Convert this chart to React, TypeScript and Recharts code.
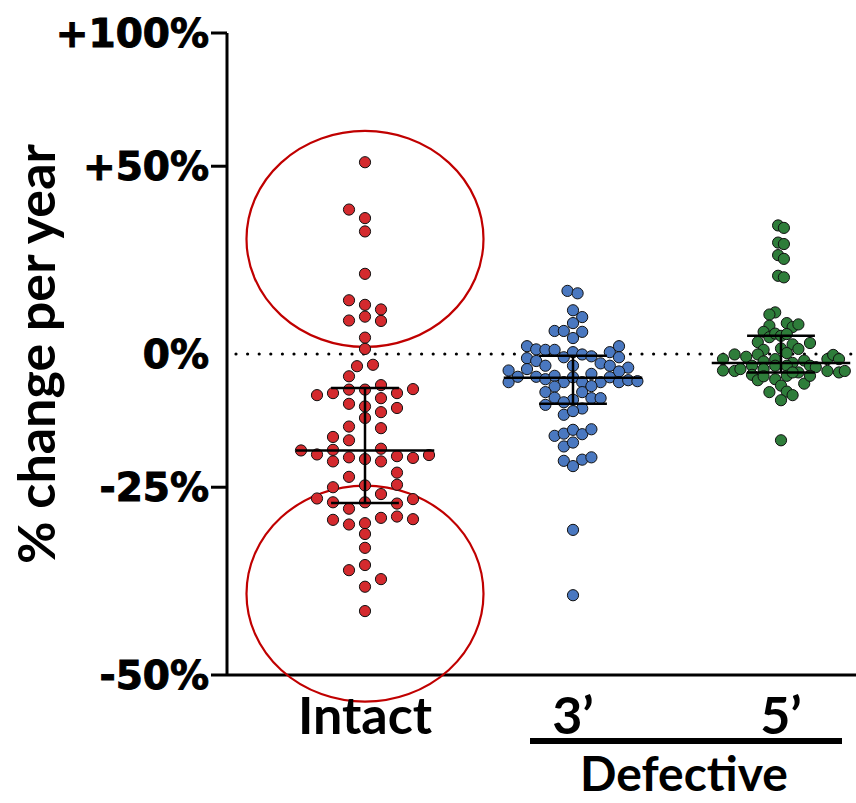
import React from 'react';
import { ScatterChart, Scatter, XAxis, YAxis, ReferenceLine, ReferenceDot } from 'recharts';

// categories on the x axis
const groups = ['Intact', '3’', '5’'];
const groupColors = ['#D42A2E', '#4A78C0', '#2E7D3A'];

// y ticks, in % change per year
const yTicks = [-50, -25, 0, 50, 100];

// [% change per year, swarm column]
const intact: [number, number][] = [
  [51.3, 0], [36.6, -1], [34.1, 0], [30.3, 0], [18.9, 0], [12.3, -1], [11.2, 0], [10.1, 1],
  [7.5, -1], [8.4, 0], [7.4, 1], [3.6, 0], [1.1, 0], [-2.6, -0.5], [-2.3, 0.5], [-4.7, -1],
  [-8.5, -3], [-8.1, -2], [-7.4, -1], [-7.4, 0], [-6.5, 1], [-8.1, 2], [-7.3, 3],
  [-10.2, -1], [-10.7, 0], [-9.1, 1], [-11.8, 1], [-11.0, 2], [-12.9, 0], [-14.5, -1], [-14.8, 1],
  [-16.4, -2], [-17.0, -1], [-18.8, -4], [-19.5, -3], [-18.7, -2], [-20.7, -2], [-20.0, -1],
  [-20.3, 0], [-18.5, 1], [-20.7, 1], [-19.8, 2], [-20.1, 3], [-19.6, 4], [-23.3, -1], [-22.6, 2],
  [-24.6, 2], [-25.0, -2], [-24.7, 0], [-26.1, 1], [-26.8, -3], [-27.4, -2], [-27.4, 0], [-27.6, 2],
  [-26.9, 3], [-28.4, -1], [-30.1, -2], [-30.8, -1], [-30.6, 0], [-29.8, 1], [-29.6, 2], [-30.0, 3],
  [-32.2, 0], [-34.2, 0], [-36.6, 0], [-37.3, -1], [-38.5, 1], [-39.5, 0], [-42.6, 0],
];

const defective3: [number, number][] = [
  [14.6, -0.6], [14.0, 0.5], [9.9, 0], [8.3, 1], [6.9, 0], [5.1, -2], [5.1, -1], [4.9, 1], [3.5, 0],
  [1.7, -5], [1.0, -4], [0.9, -3], [0.9, -2], [-0.7, -1], [0.4, 0], [-0.1, 1], [-0.5, 2], [0.4, 4],
  [1.7, 5], [-0.9, -5], [-1.5, -4], [-2.5, -3], [-2.5, 0], [-2.0, 3], [-2.5, 4], [-0.7, 5],
  [-3.5, -7], [-3.2, -5], [-2.9, 6], [-3.7, 5], [-5.9, -7], [-4.8, -6], [-4.8, -4], [-5.3, -3],
  [-4.6, -2], [-5.9, -1], [-4.9, 0], [-5.9, 1], [-4.2, 2], [-5.9, 3], [-4.9, 4], [-5.9, 5],
  [-5.5, 6], [-5.7, 7], [-6.8, -2], [-7.9, -3], [-7.9, 1], [-6.7, 2], [-9.0, -2], [-9.4, 0],
  [-9.1, 2], [-9.1, 3], [-10.4, -3], [-9.9, -1], [-11.1, 1], [-12.3, -1], [-11.6, 0],
  [-16.2, -2], [-15.8, -1], [-15.1, 0], [-15.9, 1], [-15.0, 2], [-18.1, -1], [-17.4, 0],
  [-20.6, -1], [-21.5, 0], [-20.4, 1], [-20.0, 2], [-31.6, 0], [-40.6, 0],
];

const defective5: [number, number][] = [
  [32.0, -0.5], [31.3, 0.5], [27.2, -0.5], [26.8, 0.5], [23.8, -0.5], [22.8, 0.5], [18.4, -0.5], [18.0, 0.5],
  [9.4, -1], [8.9, -2], [6.3, -2], [6.9, 1], [6.0, 2], [6.6, 3], [4.9, -3], [3.7, -2], [4.5, -1],
  [4.0, 0], [4.4, 1], [2.6, -4], [2.1, 2], [2.4, 5], [0.9, -3], [1.2, 0], [1.1, 3], [-0.1, -8],
  [-0.6, -6], [-0.1, -4], [0.2, 1], [-1.1, -10], [-1.1, 8], [-0.2, 9], [-1.1, 10], [-1.6, -3],
  [-1.1, -1], [-1.9, 2], [-1.4, 4], [-3.5, -10], [-3.6, -8], [-3.2, -7], [-2.5, -5], [-3.2, -3],
  [-2.5, -1], [-2.5, 1], [-3.9, 3], [-2.5, 5], [-2.8, 6], [-3.6, 8], [-3.9, 10], [-3.6, 11],
  [-4.4, -5], [-5.5, -4], [-4.7, -3], [-5.3, -1], [-4.6, 1], [-3.9, 2], [-6.2, 4], [-4.6, 5],
  [-6.6, 0], [-7.9, -2], [-7.8, 1], [-8.5, 2], [-9.5, 0], [-17.0, 0],
];

// median and interquartile range per group
const medians = [-18.8, -5.0, -1.9];
const q1 = [-27.5, -10.2, -3.9];
const q3 = [-7.1, -0.4, 4.0];

// circled regions on the Intact group (centre, % change)
const circleCentres = [28.2, -40.4];

const allGroups = [intact, defective3, defective5];
const colStepPx = [16, 9.2, 5.8];
const groupPx = 208;

const toRatio = (pct: number) => 1 + pct / 100;
const fmtPct = (r: number) => {
  const p = Math.round((r - 1) * 100);
  return p > 0 ? `+${p}%` : `${p}%`;
};

const series = allGroups.map((g, gi) =>
  g.map(([pct, col]) => ({ x: gi + (col * colStepPx[gi]) / groupPx, y: toRatio(pct) }))
);

const MED_HALF = 0.333;
const IQR_HALF = 0.163;
const bars: { x: number; y: number }[][] = [];
groups.forEach((_, gi) => {
  bars.push([{ x: gi - MED_HALF, y: toRatio(medians[gi]) }, { x: gi + MED_HALF, y: toRatio(medians[gi]) }]);
  bars.push([{ x: gi - IQR_HALF, y: toRatio(q1[gi]) }, { x: gi + IQR_HALF, y: toRatio(q1[gi]) }]);
  bars.push([{ x: gi - IQR_HALF, y: toRatio(q3[gi]) }, { x: gi + IQR_HALF, y: toRatio(q3[gi]) }]);
  bars.push([{ x: gi, y: toRatio(q1[gi]) }, { x: gi, y: toRatio(q3[gi]) }]);
});

const dotShape = (fill: string) => (p: any) => (
  <circle cx={p.cx} cy={p.cy} r={5.6} fill={fill} stroke="#111" strokeWidth={1} />
);

const Ellipse = (p: any) => (
  <ellipse cx={p.cx} cy={p.cy} rx={118.5} ry={108} fill="none" stroke="#C00000" strokeWidth={2.2} />
);

const YTick = (props: any) => {
  const { x, y, payload } = props;
  const v = payload.value;
  return (
    <g>
      {Math.abs(v - 1) > 1e-6 && (
        <line x1={x + 2} x2={x + 18} y1={y} y2={y} stroke="#000" strokeWidth={3} />
      )}
      <text
        x={x} y={y} dy="0.36em" textAnchor="end"
        fontFamily="DejaVu Sans" fontWeight="bold" fontSize={39}
        fill="#000" stroke="#000" strokeWidth={1}
      >
        {fmtPct(v)}
      </text>
    </g>
  );
};

const XTick = (props: any) => {
  const { x, y, payload } = props;
  return (
    <text x={x} y={y} dy={59} textAnchor="middle" fontFamily="Lato" fontWeight="bold" fontSize={52} fill="#000">
      {groups[payload.value]}
    </text>
  );
};

const YTitle = (props: any) => {
  const vb = props.viewBox;
  return (
    <text
      transform={`translate(${vb.x + 55},${vb.y + vb.height / 2}) rotate(-90)`}
      textAnchor="middle" fontFamily="Lato" fontWeight="bold" fontSize={52} fill="#000"
    >
      % change per year
    </text>
  );
};

const XGroupLabel = (props: any) => {
  const vb = props.viewBox;
  return (
    <g>
      <rect x={vb.x + 303} y={vb.y + 63} width={312} height={6} fill="#000" />
      <text x={vb.x + 457} y={vb.y + 116} textAnchor="middle" fontFamily="Lato" fontWeight="bold" fontSize={48} fill="#000">
        Defective
      </text>
    </g>
  );
};

export default function App() {
  return (
    <div style={{ position: 'absolute', left: 0, top: 0, width: 856, height: 803, background: '#fff' }}>
      <ScatterChart width={856} height={803} margin={{ top: 33, right: 0, bottom: 0, left: 0 }}>
        <XAxis
          type="number"
          dataKey="x"
          domain={[(227 - 365) / groupPx, (856 - 365) / groupPx]}
          ticks={[0, 1, 2]}
          allowDataOverflow
          height={128}
          axisLine={{ stroke: '#000', strokeWidth: 3 }}
          tickLine={false}
          tickSize={0}
          tickMargin={0}
          tick={<XTick />}
          label={{ content: <XGroupLabel /> }}
        />
        <YAxis
          type="number"
          dataKey="y"
          scale="log"
          domain={[0.5, 2]}
          ticks={yTicks.map(toRatio)}
          allowDataOverflow
          width={227}
          axisLine={{ stroke: '#000', strokeWidth: 3 }}
          tickLine={false}
          tickSize={16}
          tickMargin={2}
          tick={<YTick />}
          label={{ content: <YTitle /> }}
        />
        {circleCentres.map((c, i) => (
          <ReferenceDot key={`c${i}`} x={0} y={toRatio(c)} r={1} shape={Ellipse} ifOverflow="visible" />
        ))}
        <ReferenceLine y={1} stroke="#000" strokeWidth={3.2} strokeDasharray="0 11.6" strokeLinecap="round" strokeDashoffset={-9} />
        {series.map((d, gi) => (
          <Scatter key={groups[gi]} data={d} shape={dotShape(groupColors[gi])} isAnimationActive={false} />
        ))}
        {bars.map((seg, i) => (
          <Scatter
            key={`bar${i}`}
            data={seg}
            line={{ stroke: '#000', strokeWidth: 2.5 }}
            shape={() => <g />}
            isAnimationActive={false}
          />
        ))}
      </ScatterChart>
    </div>
  );
}
